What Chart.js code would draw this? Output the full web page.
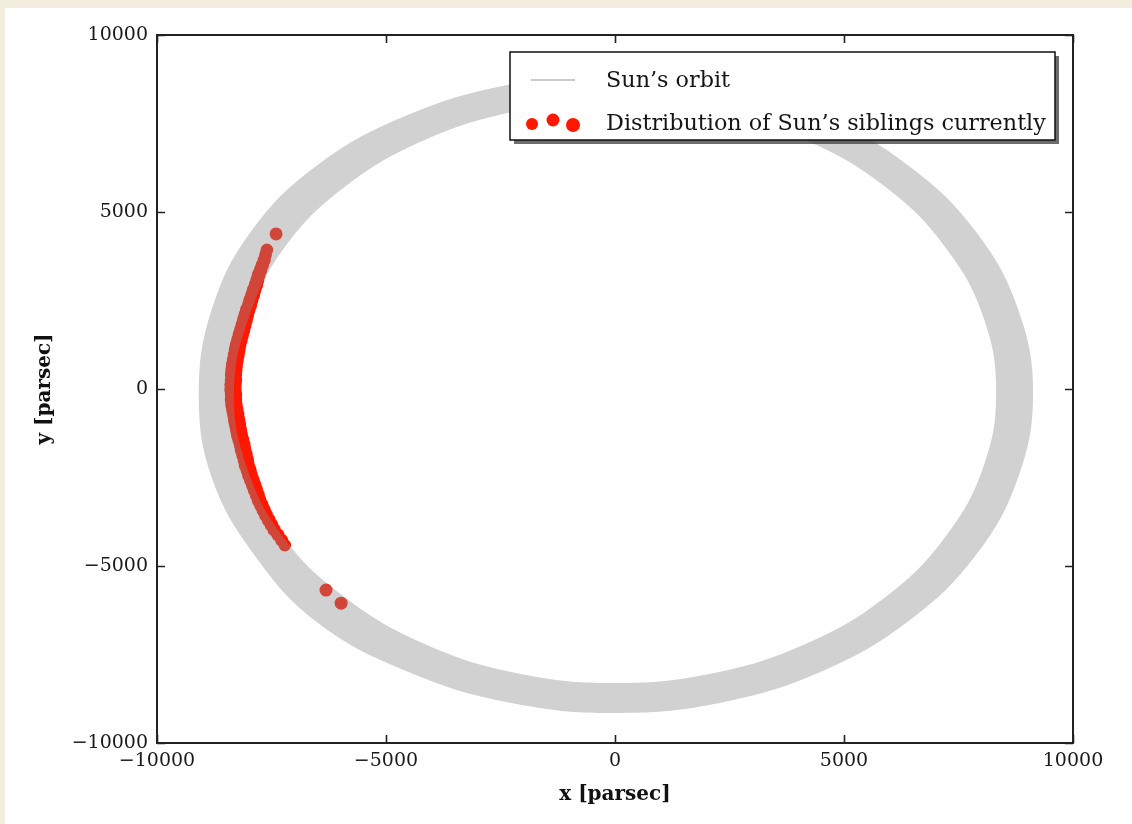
<!DOCTYPE html>
<html>
<head>
<meta charset="utf-8">
<title>Sun's orbit and siblings</title>
<script src="https://cdn.jsdelivr.net/npm/chart.js@4/dist/chart.umd.min.js"></script>
<style>
  html, body { margin: 0; padding: 0; background: #f2eddd; }
  body { width: 1132px; height: 824px; overflow: hidden; position: relative; }
  #sheet { position: absolute; left: 5px; top: 8px; width: 1127px; height: 816px; background: #ffffff; }
</style>
</head>
<body>
<div id="sheet"><canvas id="orbitChart"></canvas></div>
<script>
// Axis ticks (parsec)
const tickValues = [-10000, -5000, 0, 5000, 10000];

// Series names and axis titles
const orbitLabel = "Sun\u2019s orbit";
const siblingsLabel = "Distribution of Sun\u2019s siblings currently";
const xTitle = "x [parsec]";
const yTitle = "y [parsec]";

// Sun's orbit: an outer passage of the rosette followed by an inner one,
// both starting and ending near the top of the orbit
const orbitX = [2320, 20, -2280, -4460, -6380, -7780, -8600, -8870, -8600, -7700, -6360, -4440, -2280,
                20, 2320, 4460, 6300, 7720, 8600, 8910, 8600, 7720, 6300, 4460, 2320,
                10,
                -2210, -4270, -6040, -7390, -8200, -8540, -8250, -7420, -6040, -4270, -2210,
                0, 2210, 4270, 6040, 7390, 8250, 8540, 8250, 7390, 6040, 4270, 2210, 0];
const orbitY = [8320, 8620, 8320, 7470, 6090, 4270, 2150, -130, -2410, -4520, -6380, -7730, -8580,
                -8870, -8570, -7700, -6310, -4500, -2390, -130, 2140, 4250, 6060, 7450, 8320,
                8520,
                8130, 7280, 5930, 4170, 2120, -90, -2290, -4360, -6100, -7450, -8300,
                -8590, -8300, -7450, -6100, -4340, -2290, -90, 2120, 4170, 5930, 7280, 8130, 8420];

// Present-day positions of the siblings along the main arc
const siblingX = [-7600, -7630, -7660, -7700, -7740, -7780, -7810, -7840, -7880, -7910,
                  -7950, -7980, -8020, -8050, -8080, -8110, -8140, -8170, -8200, -8230,
                  -8250, -8270, -8290, -8310, -8320, -8330, -8330, -8340, -8340, -8330,
                  -8330, -8320, -8300, -8280, -8260, -8240, -8220, -8200, -8170, -8140,
                  -8120, -8090, -8060, -8040, -8000, -7970, -7930, -7890, -7850, -7810,
                  -7770, -7720, -7670, -7620, -7560, -7500, -7440, -7360, -7280, -7210];
const siblingY = [3930, 3790, 3640, 3500, 3360, 3220, 3080, 2940, 2800, 2660,
                  2510, 2370, 2230, 2090, 1950, 1810, 1670, 1530, 1380, 1240,
                  1100, 960, 820, 680, 540, 400, 250, 110, -30, -170,
                  -310, -450, -590, -730, -880, -1020, -1160, -1300, -1440, -1580,
                  -1720, -1860, -2010, -2150, -2290, -2430, -2570, -2710, -2850, -2990,
                  -3140, -3280, -3420, -3560, -3700, -3840, -3980, -4120, -4270, -4410];

// Siblings lying away from the arc
const strayX = [-7400, -6310, -5980];
const strayY = [4380, -5680, -6050];

const toPoints = (xs, ys) => xs.map((x, i) => ({ x: x, y: ys[i] }));
const fmtTick = v => (v < 0 ? '\u2212' + Math.abs(v) : String(v));

const SERIF = "'DejaVu Serif', 'Liberation Serif', serif";
const RED = 'rgb(255, 24, 0)';
const ORBIT_GREY = 'rgba(140, 140, 140, 0.4)';

// Arc markers are a little larger in the middle of the arc than at its ends
const arcRadius = ctx => {
  const n = siblingX.length;
  const t = ctx.dataIndex / (n - 1);
  return 6.3 + 2.4 * Math.sin(Math.PI * t);
};

// Frame with inward ticks on all four sides
const framePlugin = {
  id: 'frame',
  afterDatasetsDraw(chart) {
    const { ctx, chartArea: a, scales } = chart;
    const len = 8;
    ctx.save();
    ctx.strokeStyle = '#222';
    ctx.lineWidth = 1.6;
    ctx.beginPath();
    scales.x.ticks.forEach(t => {
      const p = Math.round(scales.x.getPixelForValue(t.value)) + 0.5;
      ctx.moveTo(p, a.bottom); ctx.lineTo(p, a.bottom - len);
      ctx.moveTo(p, a.top); ctx.lineTo(p, a.top + len);
    });
    scales.y.ticks.forEach(t => {
      const p = Math.round(scales.y.getPixelForValue(t.value)) + 0.5;
      ctx.moveTo(a.left, p); ctx.lineTo(a.left + len, p);
      ctx.moveTo(a.right, p); ctx.lineTo(a.right - len, p);
    });
    ctx.stroke();
    ctx.lineWidth = 2;
    ctx.strokeRect(a.left, a.top, a.right - a.left, a.bottom - a.top);
    ctx.restore();
  }
};

// Boxed legend in the upper right of the axes, with a drop shadow
const legendPlugin = {
  id: 'boxLegend',
  afterDraw(chart) {
    const { ctx, chartArea: a } = chart;
    const W = 545, H = 88;
    const L = a.right - 18 - W, T = a.top + 17;
    ctx.save();
    ctx.fillStyle = 'rgba(60, 60, 60, 0.75)';
    ctx.fillRect(L + 4, T + 4, W, H);
    ctx.fillStyle = '#fff';
    ctx.fillRect(L, T, W, H);
    ctx.strokeStyle = '#111';
    ctx.lineWidth = 1.5;
    ctx.strokeRect(L, T, W, H);

    // orbit sample
    ctx.strokeStyle = '#cccccc';
    ctx.lineWidth = 2;
    ctx.beginPath();
    ctx.moveTo(L + 21, T + 28);
    ctx.lineTo(L + 65, T + 28);
    ctx.stroke();

    // sibling markers
    ctx.fillStyle = RED;
    [[22, 72, 6], [43, 68, 6.5], [63, 73, 7]].forEach(([dx, dy, r]) => {
      ctx.beginPath();
      ctx.arc(L + dx, T + dy, r, 0, Math.PI * 2);
      ctx.fill();
    });

    // texts
    const labels = [chart.data.datasets[0].label, chart.data.datasets[1].label];
    ctx.font = '22px ' + SERIF;
    const w = ctx.measureText(labels[1]).width;
    const size = 22 * 440 / w;
    ctx.font = size.toFixed(2) + 'px ' + SERIF;
    ctx.fillStyle = '#151515';
    ctx.textBaseline = 'middle';
    ctx.textAlign = 'left';
    ctx.fillText(labels[0], L + 96, T + 29);
    ctx.fillText(labels[1], L + 96, T + 72);
    ctx.restore();
  }
};

const fixedTicks = scale => { scale.ticks = tickValues.map(v => ({ value: v })); };

new Chart(document.getElementById('orbitChart'), {
  type: 'scatter',
  data: {
    datasets: [
      {
        type: 'line',
        label: orbitLabel,
        data: toPoints(orbitX, orbitY),
        tension: 0.4,
        borderColor: ORBIT_GREY,
        borderWidth: 20,
        borderCapStyle: 'round',
        borderJoinStyle: 'round',
        pointRadius: 0,
        pointHoverRadius: 0,
        fill: false,
        order: 0
      },
      {
        label: siblingsLabel,
        data: toPoints(siblingX, siblingY),
        showLine: false,
        pointRadius: arcRadius,
        pointBorderWidth: 0,
        backgroundColor: RED,
        borderColor: RED,
        order: 1
      },
      {
        label: siblingsLabel,
        data: toPoints(strayX, strayY),
        showLine: false,
        pointRadius: 6.5,
        pointBorderWidth: 0,
        backgroundColor: RED,
        borderColor: RED,
        order: 1
      }
    ]
  },
  options: {
    responsive: true,
    maintainAspectRatio: false,
    animation: false,
    events: [],
    layout: { padding: { top: 27, right: 59, left: 0, bottom: 0 } },
    plugins: { legend: { display: false }, tooltip: { enabled: false } },
    scales: {
      x: {
        type: 'linear',
        position: 'bottom',
        min: -10000,
        max: 10000,
        afterBuildTicks: fixedTicks,
        afterFit: s => { s.height = 81; },
        grid: { display: false, drawTicks: false },
        border: { display: false },
        ticks: {
          callback: fmtTick,
          font: { family: SERIF, size: 19 },
          color: '#1a1a1a',
          padding: 7,
          maxRotation: 0,
          autoSkip: false
        },
        title: {
          display: true,
          text: xTitle,
          font: { family: SERIF, size: 20, weight: 'bold' },
          color: '#111',
          padding: { top: 0, bottom: 17 }
        }
      },
      y: {
        type: 'linear',
        position: 'left',
        min: -10000,
        max: 10000,
        afterBuildTicks: fixedTicks,
        afterFit: s => { s.width = 152; },
        grid: { display: false, drawTicks: false },
        border: { display: false },
        ticks: {
          callback: fmtTick,
          font: { family: SERIF, size: 19 },
          color: '#1a1a1a',
          padding: 9,
          autoSkip: false
        },
        title: {
          display: true,
          text: yTitle,
          font: { family: SERIF, size: 20, weight: 'bold' },
          color: '#111',
          padding: { top: 28, bottom: 0 }
        }
      }
    }
  },
  plugins: [framePlugin, legendPlugin]
});
</script>
</body>
</html>
